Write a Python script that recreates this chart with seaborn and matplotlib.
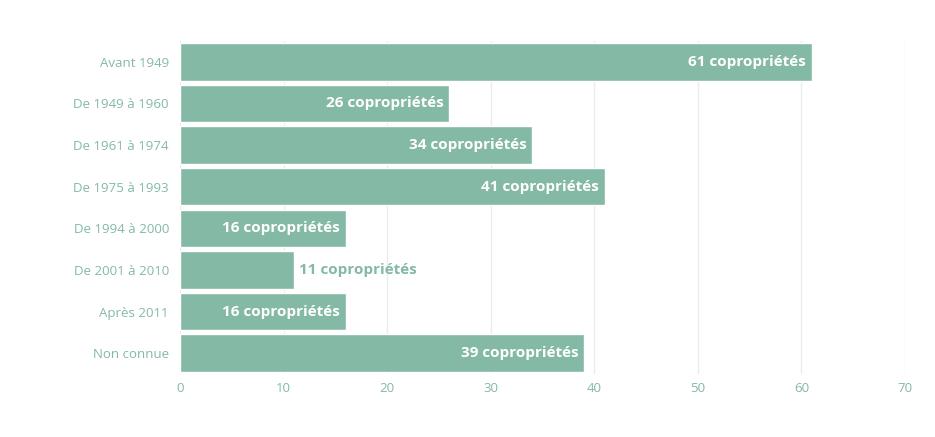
import matplotlib
matplotlib.use("Agg")
import matplotlib.pyplot as plt
import seaborn as sns
import pandas as pd

categories = ["Avant 1949", "De 1949 à 1960", "De 1961 à 1974", "De 1975 à 1993",
              "De 1994 à 2000", "De 2001 à 2010", "Après 2011", "Non connue"]
values = [61, 26, 34, 41, 16, 11, 16, 39]
xticks = [0, 10, 20, 30, 40, 50, 60, 70]

GREEN = "#84b9a5"

sns.set_theme(style="white")
plt.rcParams['font.family'] = ['Open Sans', 'DejaVu Sans']

df = pd.DataFrame({"cat": categories, "val": values})

fig = plt.figure(figsize=(9.35, 4.37), dpi=100)
ax = fig.add_axes([180/935, 1-374/437, (905-180)/935, (374-41)/437])

sns.barplot(data=df, y="cat", x="val", orient="h", color=GREEN, saturation=1,
            width=0.9, ax=ax, zorder=3)

ax.set_xlim(0, 70)
ax.set_xticks(xticks)
ax.set_xticklabels([str(t) for t in xticks])
ax.xaxis.grid(True, color="#e6efeb", linewidth=1, zorder=0)
ax.set_axisbelow(True)
ax.set_xlabel("")
ax.set_ylabel("")
for s in ax.spines.values():
    s.set_visible(False)
ax.tick_params(axis="both", length=0, colors=GREEN, labelsize=9.5)
ax.tick_params(axis="y", pad=8)
ax.tick_params(axis="x", pad=6)

for i, v in enumerate(values):
    label = f"{v} copropriétés"
    if v >= 14:
        ax.annotate(label, (v, i), xytext=(-4, 0), textcoords="offset points",
                    ha="right", va="center", color="white", fontsize=11,
                    fontweight="bold", family=["Open Sans", "DejaVu Sans"], zorder=5)
    else:
        ax.annotate(label, (v, i), xytext=(4, 0), textcoords="offset points",
                    ha="left", va="center", color=GREEN, fontsize=11,
                    fontweight="bold", family=["Open Sans", "DejaVu Sans"], zorder=5)

fig.savefig("out.png", dpi=100)
